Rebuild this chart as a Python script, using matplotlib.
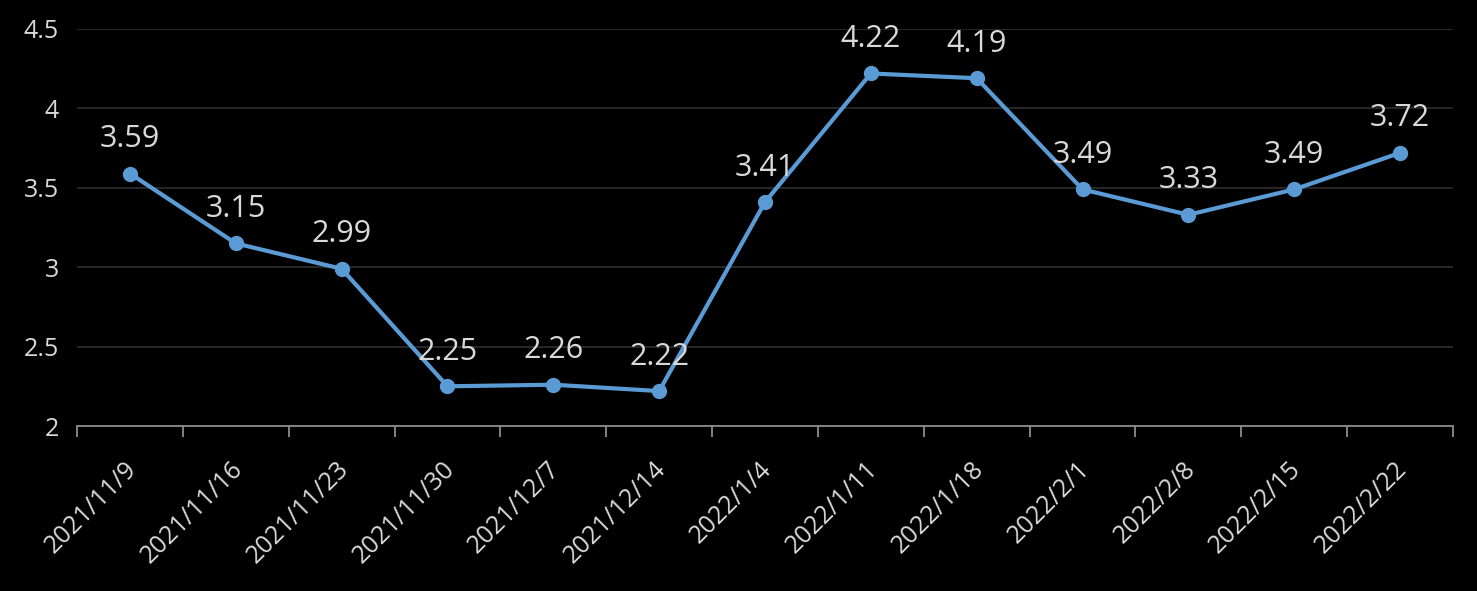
import numpy as np
import matplotlib
matplotlib.use('Agg')
from matplotlib import pyplot as plt
from matplotlib import transforms

dates = ['2021/11/9', '2021/11/16', '2021/11/23', '2021/11/30', '2021/12/7',
         '2021/12/14', '2022/1/4', '2022/1/11', '2022/1/18', '2022/2/1',
         '2022/2/8', '2022/2/15', '2022/2/22']
values = [3.59, 3.15, 2.99, 2.25, 2.26, 2.22, 3.41, 4.22, 4.19, 3.49, 3.33, 3.49, 3.72]
y_ticks = [2, 2.5, 3, 3.5, 4, 4.5]
y_labels = ['2', '2.5', '3', '3.5', '4', '4.5']

plt.rcParams['font.family'] = ['Open Sans', 'DejaVu Sans']
txt = '#d9d9d9'
blue = '#5b9bd5'

fig = plt.figure(figsize=(14.77, 5.91), dpi=100, facecolor='black')
ax = fig.add_axes([77/1477, 1-426/591, (1453-77)/1477, (426-29)/591])
ax.set_facecolor('black')

x = np.arange(len(dates))
ax.plot(x, values, color=blue, lw=3, marker='o', ms=10, zorder=3)
for xi, v in zip(x, values):
    ax.annotate('{:.2f}'.format(v), (xi, v), xytext=(0, 14), textcoords='offset points',
                ha='center', va='bottom', color=txt, fontsize=22)

ax.set_xlim(-0.5, len(dates) - 0.5)
ax.set_ylim(2, 4.5)
ax.set_yticks(y_ticks)
ax.set_yticklabels(y_labels)
ax.tick_params(axis='y', length=0, pad=13, labelcolor=txt, labelsize=18)
ax.grid(axis='y', color='#2b2b2b', lw=1.3)
ax.set_axisbelow(True)

# ticks between categories, labels at centres
ax.set_xticks(np.arange(-0.5, len(dates), 1.0))
ax.set_xticklabels([])
ax.tick_params(axis='x', which='major', length=8, width=1.3, color='#8c8c8c', direction='out')
ax.set_xticks(x, minor=True)
ax.set_xticklabels(dates, minor=True, rotation=45, ha='right', color=txt, fontsize=18)
ax.tick_params(axis='x', which='minor', length=0, pad=22)
shift = transforms.ScaledTranslation(12/100, 0, fig.dpi_scale_trans)
for lab in ax.get_xticklabels(minor=True):
    lab.set_transform(lab.get_transform() + shift)

for s in ['top', 'right', 'left']:
    ax.spines[s].set_visible(False)
ax.spines['bottom'].set_color('#8c8c8c')
ax.spines['bottom'].set_linewidth(1.3)

fig.savefig('out.png', dpi=100, facecolor='black')
